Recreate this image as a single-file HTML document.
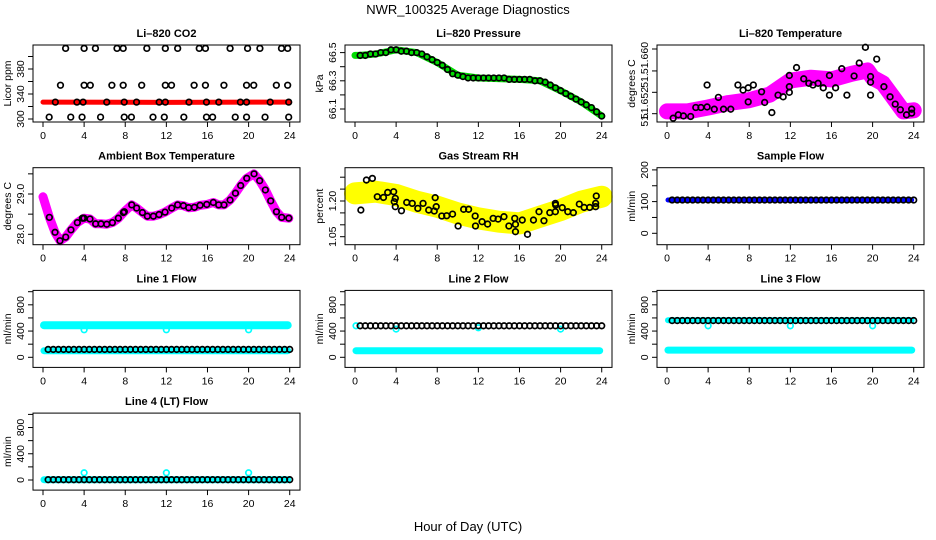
<!DOCTYPE html>
<html><head><meta charset="utf-8">
<style>
html,body{margin:0;padding:0;background:#fff;}
svg{display:block;font-family:"Liberation Sans",Arial,sans-serif;}
</style></head>
<body>
<svg id="chart" width="936" height="540" viewBox="0 0 936 540" xmlns="http://www.w3.org/2000/svg">
<rect x="0" y="0" width="936" height="540" fill="#fff"/>
<text x="468" y="14" text-anchor="middle" font-size="13">NWR_100325  Average Diagnostics</text>
<text x="468" y="531" text-anchor="middle" font-size="13">Hour of Day (UTC)</text>
</svg>
<script>
// ---- data ----
const xTicks = [0,4,8,12,16,20,24];
// CO2
const co2TopHours = [2.2,4.0,5.1,7.2,7.8,10.1,11.9,13.1,15.2,15.8,18.2,19.9,21.1,23.2,23.8];
const co2TopVals = [413,413,413,413,413,413,413,413,413,413,413,413,413,413,413];
const co2MidHours = [1.7,4.0,4.6,6.7,7.8,9.6,11.9,12.5,14.7,15.8,17.6,19.8,20.5,22.7,23.8];
const co2MidVals = [354,354,354,354,354,354,354,354,354,354,354,354,354,354,354];
const co2LowHours = [1.2,3.3,3.9,6.2,7.9,9.1,11.3,11.9,14.2,15.9,17.1,19.2,19.8,22.1,23.9];
const co2LowVals = [327,327,327,327,327,327,327,327,327,327,327,327,327,327,327];
const co2BotHours = [0.6,2.7,3.8,5.6,7.9,8.6,10.7,11.8,13.7,15.9,16.5,18.7,19.8,21.6,23.9];
const co2BotVals = [303,303,303,303,303,303,303,303,303,303,303,303,303,303,303];
const co2RedHours = [0,12,24];
const co2RedVals = [327,326.5,327];
// Pressure
const presHours = [0.5,1,1.5,2,2.5,3,3.5,4,4.5,5,5.5,6,6.5,7,7.5,8,8.5,9,9.5,10,10.5,11,11.5,12,12.5,13,13.5,14,14.5,15,15.5,16,16.5,17,17.5,18,18.5,19,19.5,20,20.5,21,21.5,22,22.5,23,23.5,24];
const presVals = [66.48,66.48,66.49,66.49,66.50,66.50,66.52,66.52,66.51,66.51,66.50,66.50,66.49,66.47,66.45,66.43,66.41,66.38,66.35,66.34,66.33,66.32,66.32,66.32,66.32,66.32,66.32,66.32,66.32,66.31,66.31,66.31,66.31,66.31,66.30,66.30,66.29,66.27,66.25,66.23,66.21,66.19,66.17,66.15,66.13,66.11,66.08,66.05];
const presGreenHours = [0,0.5,2,4,6,8,10,12,16,18,20,22,24];
const presGreenVals = [66.48,66.48,66.49,66.52,66.50,66.43,66.34,66.32,66.31,66.30,66.23,66.15,66.05];
// Li-820 temperature
const ltBandHours = [0,2,4,6,8,10,12,14,16,18,19.5,20,21,22,23,24];
const ltBandVals = [51.6505,51.6505,51.6512,51.6520,51.6525,51.6535,51.6560,51.6565,51.6562,51.6572,51.6578,51.6565,51.6555,51.6530,51.6505,51.6507];
const ltHours = [0.6,1.1,1.6,2.3,2.8,3.3,3.9,3.9,4.6,5.0,5.5,6.2,6.9,7.4,7.9,7.9,8.4,9.2,9.5,10.2,10.8,11.3,11.9,11.9,11.9,12.6,13.3,13.8,14.2,14.7,15.2,15.8,15.8,16.4,17.0,17.5,18.2,18.7,19.3,19.8,19.8,19.8,20.4,21.1,21.7,22.2,22.7,23.3,23.8,23.8];
const ltVals = [51.6493,51.6499,51.6497,51.6496,51.6512,51.6512,51.6513,51.6552,51.6509,51.6530,51.6509,51.6509,51.6552,51.6543,51.6547,51.6522,51.6552,51.6540,51.6521,51.6503,51.6534,51.6531,51.6569,51.6549,51.6539,51.6583,51.6563,51.6555,51.6552,51.6555,51.6547,51.6569,51.6534,51.6547,51.6581,51.6534,51.6568,51.6591,51.6619,51.6567,51.6557,51.6534,51.6598,51.6549,51.6531,51.6518,51.6508,51.6499,51.6509,51.6502];
// Ambient box temperature
const abMagHours = [0,0.62,1.17,1.65,2.21,2.72,3.34,3.99,4.57,5.12,5.64,6.20,6.75,7.33,7.91,8.63,9.11,9.67,10.15,10.74,11.29,11.87,12.52,13.10,13.66,14.17,14.73,15.28,15.93,16.57,17.09,17.61,18.20,18.72,19.23,19.82,20.53,21.08,21.63,22.15,22.71,23.22,23.91];
const abMagVals = [28.93,28.42,28.05,27.84,27.93,28.11,28.29,28.40,28.38,28.26,28.26,28.25,28.29,28.40,28.56,28.73,28.65,28.54,28.45,28.45,28.49,28.55,28.65,28.73,28.71,28.66,28.67,28.72,28.74,28.79,28.73,28.73,28.85,29.02,29.21,29.39,29.50,29.33,29.10,28.83,28.56,28.42,28.40];
const abHours = [0.62,1.17,1.65,2.21,2.72,3.34,3.83,3.99,4.57,5.12,5.64,6.20,6.75,7.33,7.82,7.91,8.63,9.11,9.67,10.15,10.74,11.29,11.87,12.52,13.10,13.66,14.17,14.73,15.28,15.93,16.57,17.09,17.61,18.20,18.72,19.23,19.82,20.53,21.08,21.63,22.15,22.71,23.22,23.91];
const abVals = [28.42,28.05,27.84,27.93,28.11,28.29,28.40,28.40,28.38,28.26,28.26,28.25,28.29,28.40,28.54,28.56,28.73,28.65,28.54,28.45,28.45,28.49,28.55,28.65,28.73,28.71,28.66,28.67,28.72,28.74,28.79,28.73,28.73,28.85,29.02,29.21,29.39,29.50,29.33,29.10,28.83,28.56,28.42,28.40];
// Gas stream RH
const rhBandHours = [0,2,4,6,8,10,12,14,16,18,20,22,24];
const rhBandVals = [1.232,1.239,1.225,1.197,1.176,1.148,1.127,1.113,1.106,1.134,1.162,1.197,1.218];
const rhHours = [0.57,1.11,1.69,2.17,2.77,3.18,3.76,3.82,3.92,3.92,4.52,5.03,5.57,6.11,6.62,7.17,7.71,7.80,7.90,8.44,8.92,9.49,10.03,10.57,11.05,11.69,11.72,12.36,12.90,13.44,13.92,14.49,14.97,15.54,15.61,15.61,16.27,16.78,17.36,17.90,18.38,18.95,19.49,19.49,19.52,20.16,20.70,21.24,21.82,22.29,22.83,23.41,23.41,23.47];
const rhVals = [1.162,1.288,1.295,1.218,1.215,1.236,1.239,1.197,1.211,1.176,1.159,1.194,1.190,1.169,1.190,1.162,1.158,1.214,1.176,1.137,1.138,1.145,1.095,1.165,1.165,1.137,1.095,1.113,1.103,1.127,1.124,1.134,1.095,1.127,1.071,1.102,1.120,1.060,1.120,1.155,1.117,1.151,1.190,1.155,1.183,1.172,1.155,1.151,1.187,1.173,1.173,1.176,1.190,1.221];
// Flows
const flowHours = [0.5,1,1.5,2,2.5,3,3.5,4,4.5,5,5.5,6,6.5,7,7.5,8,8.5,9,9.5,10,10.5,11,11.5,12,12.5,13,13.5,14,14.5,15,15.5,16,16.5,17,17.5,18,18.5,19,19.5,20,20.5,21,21.5,22,22.5,23,23.5,24];
const bandHours = [0.1,23.8];
const dipHours = [4,12,20];
const sampleBlueVals = [105,105];
const sampleBlackVals = [105,105,105,105,105,105,105,105,105,105,105,105,105,105,105,105,105,105,105,105,105,105,105,105,105,105,105,105,105,105,105,105,105,105,105,105,105,105,105,105,105,105,105,105,105,105,105,105];
const line1HiVals = [490,490];
const line1DipVals = [420,420,420];
const line1LoVals = [100,100];
const line1BlackVals = [120,120,120,120,120,120,120,120,120,120,120,120,120,120,120,120,120,120,120,120,120,120,120,120,120,120,120,120,120,120,120,120,120,120,120,120,120,120,120,120,120,120,120,120,120,120,120,120];
const line2LoVals = [100,100];
const line2DipVals = [430,450,430];
const line2BlackVals = [480,480,480,480,480,480,480,480,480,480,480,480,480,480,480,480,480,480,480,480,480,480,480,480,480,480,480,480,480,480,480,480,480,480,480,480,480,480,480,480,480,480,480,480,480,480,480,480];
const line3LoVals = [110,110];
const line3HiVals = [565,565];
const line3DipVals = [480,480,480];
const line3BlackVals = [560,560,560,560,560,560,560,560,560,560,560,560,560,560,560,560,560,560,560,560,560,560,560,560,560,560,560,560,560,560,560,560,560,560,560,560,560,560,560,560,560,560,560,560,560,560,560,560];
const line4LoVals = [5,5];
const line4DipVals = [110,110,110];
const line4BlackVals = [5,5,5,5,5,5,5,5,5,5,5,5,5,5,5,5,5,5,5,5,5,5,5,5,5,5,5,5,5,5,5,5,5,5,5,5,5,5,5,5,5,5,5,5,5,5,5,5];

const NS = "http://www.w3.org/2000/svg";
const svg = document.getElementById('chart');
function mk(tag, attrs, parent){
  const e = document.createElementNS(NS, tag);
  for (const k in attrs) e.setAttribute(k, attrs[k]);
  (parent||svg).appendChild(e);
  return e;
}
function panel(c, r, title, ylab, y0px, y0val, pxPerUnit, ticks, labels, key){
  const g = mk('g', {});
  
  
  const left = 33 + c*312, right = 300 + c*312;
  const top = 45 + r*122.7, bottom = top + 77;
  const P = {g, left, right, top, bottom,
    x: h => 43 + c*312 + h*10.28,
    y: v => y0px - (v - y0val)*pxPerUnit};
  const t = mk('text', {x:(left+right)/2, y:top-8, 'text-anchor':'middle', 'font-size':11, 'font-weight':'bold'}, g);
  t.textContent = title;
  
  
  const yl = mk('text', {x:0, y:0, 'text-anchor':'middle', 'font-size':10.5, transform:`translate(${left-22},${(top+bottom)/2}) rotate(-90)`}, g);
  yl.textContent = ylab;
  
  
  xTicks.forEach(h => {
    const tk = mk('line', {x1:P.x(h), x2:P.x(h), y1:bottom, y2:bottom+5, stroke:'#000', 'stroke-width':1}, g);
    
    
    const tl = mk('text', {x:P.x(h), y:bottom+17, 'text-anchor':'middle', 'font-size':10.5}, g);
    tl.textContent = h;
    
    
  });
  ticks.forEach(v => {
    const tk = mk('line', {x1:left-5, x2:left, y1:P.y(v), y2:P.y(v), stroke:'#000', 'stroke-width':1}, g);
    
    
  });
  labels.forEach(([v, s]) => {
    const tl = mk('text', {x:0, y:0, 'text-anchor':'middle', 'font-size':10.5, transform:`translate(${left-9},${P.y(v)}) rotate(-90)`}, g);
    tl.textContent = s;
    
    
  });
  P.plot = mk('g', {}, g);
  
  
  const box = mk('rect', {x:left, y:top, width:right-left, height:bottom-top, fill:'none', stroke:'#000', 'stroke-width':1}, g);
  
  
  return P;
}
function band(P, hs, vs, color, w, name){
  const pts = hs.map((h,i) => P.x(h).toFixed(1) + ',' + P.y(vs[i]).toFixed(1)).join(' ');
  const pl = mk('polyline', {points:pts, fill:'none', stroke:color, 'stroke-width':w, 'stroke-linecap':'round', 'stroke-linejoin':'round'}, P.plot);
  
  
}
function pts(P, hs, vs, color, name){
  hs.forEach((h,i) => {
    const cc = mk('circle', {cx:P.x(h), cy:P.y(vs[i]), r:2.8, fill:'none', stroke:color, 'stroke-width':1.7}, P.plot);
    
    
  });
}

// Li-820 CO2
let P = panel(0,0,'Li\u2013820 CO2','Licor ppm',119,300,0.625,[300,320,340,360,380,400],[[300,'300'],[340,'340'],[380,'380']],'co2');
band(P, co2RedHours, co2RedVals, '#ff0000', 5, 'co2-red-series');
pts(P, co2TopHours, co2TopVals, '#000', 'co2-point');
pts(P, co2MidHours, co2MidVals, '#000', 'co2-point');
pts(P, co2LowHours, co2LowVals, '#000', 'co2-point');
pts(P, co2BotHours, co2BotVals, '#000', 'co2-point');

// Pressure
P = panel(1,0,'Li\u2013820 Pressure','kPa',109,66.1,141,[66.1,66.2,66.3,66.4,66.5],[[66.1,'66.1'],[66.3,'66.3'],[66.5,'66.5']],'pressure');
band(P, presGreenHours, presGreenVals, '#00dd00', 7, 'pressure-green-series');
pts(P, presHours, presVals, '#000', 'pressure-point');

// Li-820 Temperature
P = panel(2,0,'Li\u2013820 Temperature','degrees C',103,51.652,5625,[51.6501,51.6539,51.6577,51.6616],[[51.6491,'51.'],[51.652,'51.652'],[51.656,'51.'],[51.660,'51.660']],'li820-temp');
band(P, ltBandHours, ltBandVals, '#ff00ff', 16, 'li820-temp-magenta-series');
pts(P, ltHours, ltVals, '#000', 'li820-temp-point');

// Ambient Box Temperature
P = panel(0,1,'Ambient Box Temperature','degrees C',234.3,28,40.3,[28,28.5,29,29.5],[[28,'28.0'],[29,'29.0']],'ambient');
band(P, abMagHours, abMagVals, '#ff00ff', 9, 'ambient-magenta-series');
pts(P, abHours, abVals, '#000', 'ambient-point');

// Gas Stream RH
P = panel(1,1,'Gas Stream RH','percent',236.7,1.05,238,[1.05,1.10,1.15,1.20,1.25,1.30],[[1.05,'1.05'],[1.20,'1.20']],'rh');
band(P, rhBandHours, rhBandVals, '#ffff00', 22, 'rh-yellow-series');
pts(P, rhHours, rhVals, '#000', 'rh-point');

// Sample Flow
P = panel(2,1,'Sample Flow','ml/min',233.3,0,0.317,[0,50,100,150,200],[[0,'0'],[100,'100'],[200,'200']],'sample-flow');
band(P, bandHours, sampleBlueVals, '#0000ff', 5, 'sample-flow-blue-series');
pts(P, flowHours, sampleBlackVals, '#000', 'sample-flow-point');

const flowTicks = [0,200,400,600,800,1000];
const flowLabels = [[0,'0'],[400,'400'],[800,'800']];
// Line 1
P = panel(0,2,'Line 1 Flow','ml/min',357.3,0,0.0656,flowTicks,flowLabels,'line1');
band(P, bandHours, line1HiVals, '#00ffff', 8, 'line1-cyan-high-series');
pts(P, dipHours, line1DipVals, '#00ffff', 'line1-cyan-point');
band(P, bandHours, line1LoVals, '#00ffff', 7, 'line1-cyan-low-series');
pts(P, flowHours, line1BlackVals, '#000', 'line1-point');
// Line 2
P = panel(1,2,'Line 2 Flow','ml/min',357.3,0,0.0656,flowTicks,flowLabels,'line2');
band(P, bandHours, line2LoVals, '#00ffff', 7, 'line2-cyan-low-series');
pts(P, [0.1], [480], '#00ffff', 'line2-cyan-point');
pts(P, dipHours, line2DipVals, '#00ffff', 'line2-cyan-point');
pts(P, flowHours, line2BlackVals, '#000', 'line2-point');
// Line 3
P = panel(2,2,'Line 3 Flow','ml/min',357.3,0,0.0656,flowTicks,flowLabels,'line3');
band(P, bandHours, line3HiVals, '#00ffff', 6, 'line3-cyan-high-series');
band(P, bandHours, line3LoVals, '#00ffff', 7, 'line3-cyan-low-series');
pts(P, dipHours, line3DipVals, '#00ffff', 'line3-cyan-point');
pts(P, flowHours, line3BlackVals, '#000', 'line3-point');
// Line 4
P = panel(0,3,'Line 4 (LT) Flow','ml/min',480,0,0.0656,flowTicks,flowLabels,'line4');
band(P, bandHours, line4LoVals, '#00ffff', 7, 'line4-cyan-low-series');
pts(P, dipHours, line4DipVals, '#00ffff', 'line4-cyan-point');
pts(P, flowHours, line4BlackVals, '#000', 'line4-point');
</script>
</body></html>
